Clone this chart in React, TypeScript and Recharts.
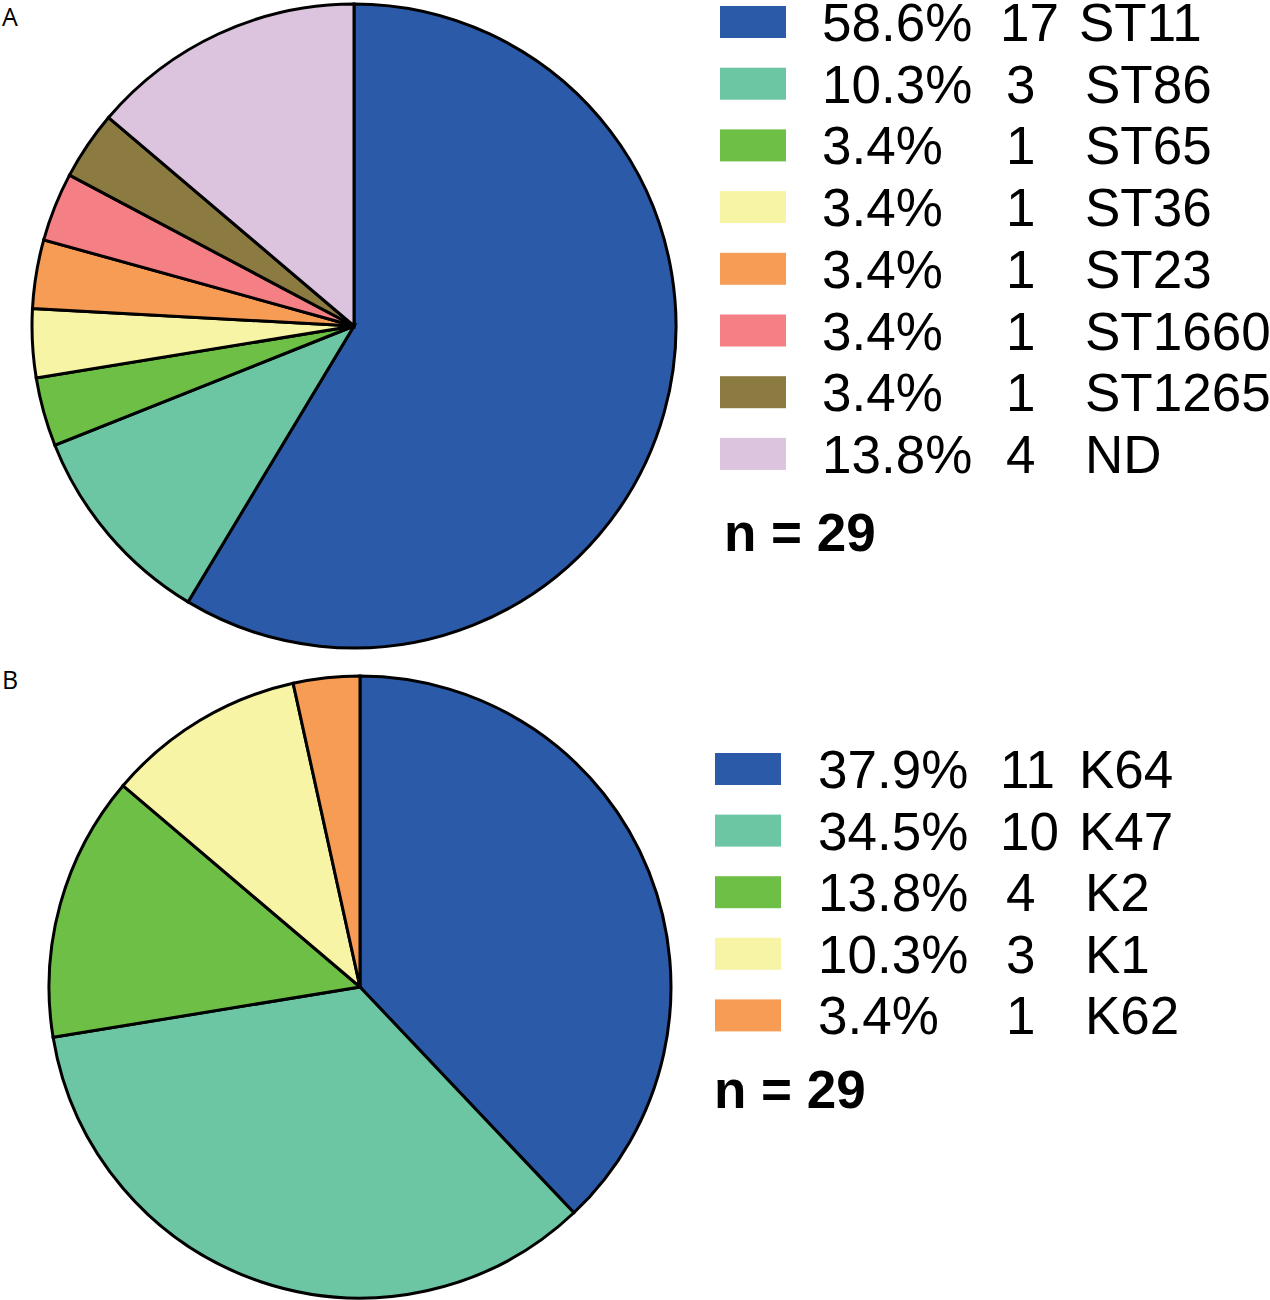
import React from 'react'
import { PieChart, Pie, Cell } from 'recharts'

// panel A: sequence types
const stNames = ['ST11', 'ST86', 'ST65', 'ST36', 'ST23', 'ST1660', 'ST1265', 'ND']
const stCounts = [17, 3, 1, 1, 1, 1, 1, 4]
const stPercents = ['58.6%', '10.3%', '3.4%', '3.4%', '3.4%', '3.4%', '3.4%', '13.8%']
const stColors = ['#2b5aa8', '#6cc6a3', '#6ebf45', '#f7f4a6', '#f69c54', '#f48085', '#8c7b41', '#dcc4df']

// panel B: capsule types
const kNames = ['K64', 'K47', 'K2', 'K1', 'K62']
const kCounts = [11, 10, 4, 3, 1]
const kPercents = ['37.9%', '34.5%', '13.8%', '10.3%', '3.4%']
const kColors = ['#2b5aa8', '#6cc6a3', '#6ebf45', '#f7f4a6', '#f69c54']

const total = 29

const stData = stNames.map((name, i) => ({ name, value: stCounts[i] }))
const kData = kNames.map((name, i) => ({ name, value: kCounts[i] }))

const FONT = '"Liberation Sans", Arial, sans-serif'

type LegendProps = {
  names: string[]
  counts: number[]
  percents: string[]
  colors: string[]
  boxX: number
  pctX: number
  top: number
  step: number
  nX: number
  nY: number
}

function LegendBlock({ names, counts, percents, colors, boxX, pctX, top, step, nX, nY }: LegendProps) {
  return (
    <g fontFamily={FONT} fontSize={53} fill="#000">
      {names.map((name, i) => {
        const cy = top + i * step
        const two = counts[i] >= 10
        return (
          <g key={name}>
            <rect x={boxX} y={cy - 16} width={66} height={32} fill={colors[i]} />
            <text x={pctX} y={cy + 19}>{percents[i]}</text>
            <text x={two ? 1000 : 1006} y={cy + 19}>{counts[i]}</text>
            <text x={two ? 1079 : 1085} y={cy + 19}>{name}</text>
          </g>
        )
      })}
      <text x={nX} y={nY} fontWeight="bold">n = {total}</text>
    </g>
  )
}

export default function App() {
  return (
    <div style={{ position: 'absolute', left: 0, top: 0, width: 1270, height: 1300, background: '#fff' }}>
      <PieChart width={1270} height={1300} margin={{ top: 0, right: 0, bottom: 0, left: 0 }}>
        <Pie
          data={stData}
          dataKey="value"
          cx={354}
          cy={326}
          outerRadius={322}
          startAngle={90}
          endAngle={-270}
          stroke="#000"
          strokeWidth={3}
          isAnimationActive={false}
        >
          {stData.map((d, i) => (
            <Cell key={d.name} fill={stColors[i]} />
          ))}
        </Pie>
        <Pie
          data={kData}
          dataKey="value"
          cx={360}
          cy={987}
          outerRadius={311}
          startAngle={90}
          endAngle={-270}
          stroke="#000"
          strokeWidth={3}
          isAnimationActive={false}
        >
          {kData.map((d, i) => (
            <Cell key={d.name} fill={kColors[i]} />
          ))}
        </Pie>
      </PieChart>
      <svg width={1270} height={1300} style={{ position: 'absolute', left: 0, top: 0, pointerEvents: 'none' }}>
        <text x={2} y={26} fontFamily='"Open Sans", sans-serif' fontSize={25}>A</text>
        <text x={2} y={689} fontFamily='"Open Sans", sans-serif' fontSize={25}>B</text>
        <LegendBlock
          names={stNames}
          counts={stCounts}
          percents={stPercents}
          colors={stColors}
          boxX={720}
          pctX={822}
          top={22}
          step={61.7}
          nX={724}
          nY={551}
        />
        <LegendBlock
          names={kNames}
          counts={kCounts}
          percents={kPercents}
          colors={kColors}
          boxX={715}
          pctX={818}
          top={769}
          step={61.6}
          nX={714}
          nY={1108}
        />
      </svg>
    </div>
  )
}
